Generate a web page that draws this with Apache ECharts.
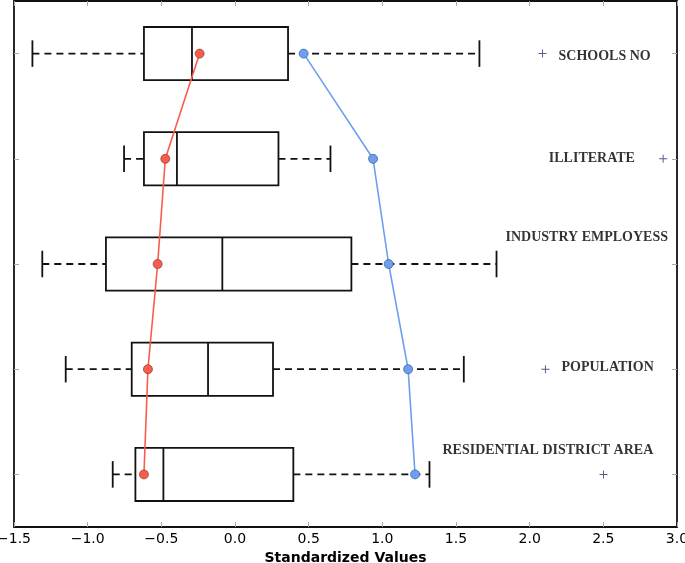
<!DOCTYPE html>
<html>
<head>
<meta charset="utf-8">
<script src="https://cdn.jsdelivr.net/npm/echarts@6/dist/echarts.min.js"></script>
<style>
  html, body { margin: 0; padding: 0; background: #fff; }
  #main { width: 685px; height: 563px; }
</style>
</head>
<body>
<div id="main"></div>
<script>
// categories, top to bottom
var categories = ["SCHOOLS NO", "ILLITERATE", "INDUSTRY EMPLOYESS", "POPULATION", "RESIDENTIAL DISTRICT AREA"];

// box statistics (standardized values)
var lowWhisker = [-1.375, -0.753, -1.308, -1.149, -0.830];
var q1 = [-0.618, -0.618, -0.876, -0.701, -0.676];
var median = [-0.292, -0.394, -0.086, -0.183, -0.486];
var q3 = [0.360, 0.295, 0.790, 0.258, 0.396];
var highWhisker = [1.659, 0.648, 1.775, 1.553, 1.320];

// outliers: [value, category index]
var outliers = [[2.087, 0], [2.906, 1], [2.107, 3], [2.501, 4]];

// the two lines through the boxes
var redLine = [-0.240, -0.473, -0.525, -0.591, -0.618];
var blueLine = [0.466, 0.937, 1.043, 1.175, 1.222];

var myChart = echarts.init(document.getElementById("main"));

var boxData = categories.map(function (c, i) {
  return [i, lowWhisker[i], q1[i], median[i], q3[i], highWhisker[i]];
});

// label anchors (left edge of text, in x units) and small vertical nudges
var labelX = [2.196, 2.130, 1.836, 2.216, 1.408];
var labelDy = [3, 0, -27, -2, -24];

function renderBox(params, api) {
  var cat = api.value(0);
  var band = api.size([0, 1])[1];
  var half = band * 0.253;
  var capHalf = band * 0.126;
  var pLow = api.coord([api.value(1), cat]);
  var pQ1 = api.coord([api.value(2), cat]);
  var pMed = api.coord([api.value(3), cat]);
  var pQ3 = api.coord([api.value(4), cat]);
  var pHigh = api.coord([api.value(5), cat]);
  var y = pQ1[1];
  var solid = { stroke: "#111", lineWidth: 1.8, fill: null };
  var dashed = { stroke: "#111", lineWidth: 1.8, lineDash: [7, 5], fill: null };
  return {
    type: "group",
    children: [
      { type: "line", shape: { x1: pLow[0], y1: y, x2: pQ1[0], y2: y }, style: dashed },
      { type: "line", shape: { x1: pQ3[0], y1: y, x2: pHigh[0], y2: y }, style: dashed },
      { type: "line", shape: { x1: pLow[0], y1: y - capHalf, x2: pLow[0], y2: y + capHalf }, style: solid },
      { type: "line", shape: { x1: pHigh[0], y1: y - capHalf, x2: pHigh[0], y2: y + capHalf }, style: solid },
      { type: "rect", shape: { x: pQ1[0], y: y - half, width: pQ3[0] - pQ1[0], height: half * 2 }, style: solid },
      { type: "line", shape: { x1: pMed[0], y1: y - half, x2: pMed[0], y2: y + half }, style: solid }
    ]
  };
}

function fmt(v) {
  var s = Math.abs(v).toFixed(1);
  return v < 0 ? "\u2212" + s : s;
}

function frameLine() {
  return { show: true, onZero: false, lineStyle: { color: "#111", width: 1.8 } };
}
function inTick(center) {
  return { show: true, inside: true, length: 5, alignWithLabel: !!center, lineStyle: { color: "#aaa" } };
}

var option = {
  animation: false,
  grid: { left: 14, right: 8, top: 1, bottom: 36, outerBoundsMode: "none", containLabel: false },
  xAxis: [
    {
      type: "value",
      min: -1.5,
      max: 3.0,
      interval: 0.5,
      position: "bottom",
      name: "Standardized Values",
      nameLocation: "middle",
      nameGap: 22,
      nameTextStyle: { fontFamily: "DejaVu Sans", fontWeight: "bold", fontSize: 14, color: "#000" },
      axisLine: frameLine(),
      axisTick: inTick(false),
      axisLabel: {
        fontFamily: "DejaVu Sans", fontSize: 14, color: "#000", margin: 5,
        formatter: function (v) { return fmt(v); }
      },
      splitLine: { show: false }
    },
    {
      type: "value",
      min: -1.5,
      max: 3.0,
      interval: 0.5,
      position: "top",
      axisLine: frameLine(),
      axisTick: inTick(false),
      axisLabel: { show: false },
      splitLine: { show: false }
    }
  ],
  yAxis: [
    {
      type: "category",
      data: categories,
      inverse: true,
      position: "left",
      axisLine: frameLine(),
      axisTick: inTick(true),
      axisLabel: { show: false }
    },
    {
      type: "category",
      data: categories,
      inverse: true,
      position: "right",
      axisLine: frameLine(),
      axisTick: inTick(true),
      axisLabel: { show: false }
    }
  ],
  series: [
    {
      type: "custom",
      renderItem: renderBox,
      encode: { x: [1, 2, 3, 4, 5], y: 0 },
      data: boxData,
      z: 2
    },
    {
      type: "scatter",
      symbol: "path://M4.4,0h1.2v4.4h4.4v1.2h-4.4v4.4h-1.2v-4.4h-4.4v-1.2h4.4z",
      symbolSize: 8,
      itemStyle: { color: "#2e2e6e" },
      data: outliers,
      z: 3
    },
    {
      type: "line",
      data: redLine.map(function (v, i) { return [v, i]; }),
      symbol: "circle",
      symbolSize: 9,
      lineStyle: { color: "#fa5c4b", width: 1.6 },
      itemStyle: { color: "#fa5c4b", borderColor: "#8a3a32", borderWidth: 0.7 },
      z: 4
    },
    {
      type: "line",
      data: blueLine.map(function (v, i) { return [v, i]; }),
      symbol: "circle",
      symbolSize: 9,
      lineStyle: { color: "#6d9ff0", width: 1.6 },
      itemStyle: { color: "#6d9ff0", borderColor: "#3e5a8a", borderWidth: 0.7 },
      z: 4
    },
    {
      type: "scatter",
      symbolSize: 0,
      silent: true,
      data: categories.map(function (c, i) { return { value: [labelX[i], i], name: c }; }),
      label: {
        show: true,
        position: "inside",
        align: "left",
        verticalAlign: "middle",
        formatter: function (p) { return p.name; },
        fontFamily: "Liberation Serif",
        fontWeight: "bold",
        fontSize: 14,
        color: "#000"
      },
      labelLayout: function (params) {
        return { dy: labelDy[params.dataIndex] };
      },
      z: 5
    }
  ]
};

option && myChart.setOption(option);
</script>
</body>
</html>
